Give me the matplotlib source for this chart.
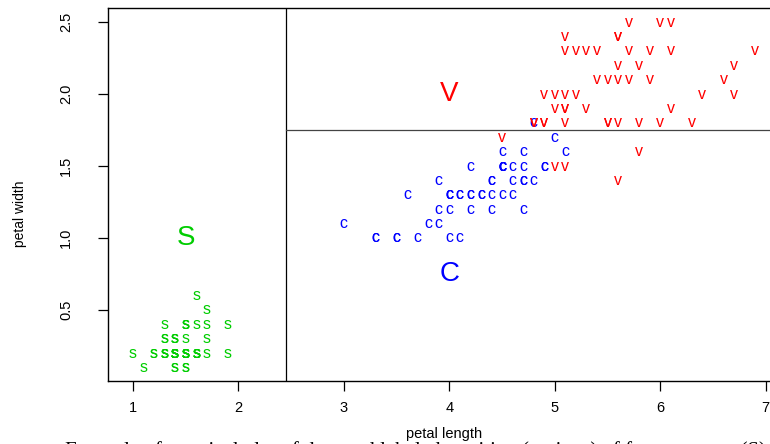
import matplotlib
matplotlib.use("Agg")
import matplotlib.pyplot as plt

# Iris petal measurements (length, width) per species
setosa_len = [1.4,1.4,1.3,1.5,1.4,1.7,1.4,1.5,1.4,1.5,1.5,1.6,1.4,1.1,1.2,1.5,1.3,1.4,1.7,1.5,
              1.7,1.5,1.0,1.7,1.9,1.6,1.6,1.5,1.4,1.6,1.6,1.5,1.5,1.4,1.5,1.2,1.3,1.4,1.3,1.5,
              1.3,1.3,1.3,1.6,1.9,1.4,1.6,1.4,1.5,1.4]
setosa_wid = [0.2,0.2,0.2,0.2,0.2,0.4,0.3,0.2,0.2,0.1,0.2,0.2,0.1,0.1,0.2,0.4,0.4,0.3,0.3,0.3,
              0.2,0.4,0.2,0.5,0.2,0.2,0.4,0.2,0.2,0.2,0.2,0.4,0.1,0.2,0.2,0.2,0.2,0.1,0.2,0.2,
              0.3,0.3,0.2,0.6,0.4,0.3,0.2,0.2,0.2,0.2]
versi_len = [4.7,4.5,4.9,4.0,4.6,4.5,4.7,3.3,4.6,3.9,3.5,4.2,4.0,4.7,3.6,4.4,4.5,4.1,4.5,3.9,
             4.8,4.0,4.9,4.7,4.3,4.4,4.8,5.0,4.5,3.5,3.8,3.7,3.9,5.1,4.5,4.5,4.7,4.4,4.1,4.0,
             4.4,4.6,4.0,3.3,4.2,4.2,4.2,4.3,3.0,4.1]
versi_wid = [1.4,1.5,1.5,1.3,1.5,1.3,1.6,1.0,1.3,1.4,1.0,1.5,1.0,1.4,1.3,1.4,1.5,1.0,1.5,1.1,
             1.8,1.3,1.5,1.2,1.3,1.4,1.4,1.7,1.5,1.0,1.1,1.0,1.2,1.6,1.5,1.6,1.5,1.3,1.3,1.3,
             1.2,1.4,1.2,1.0,1.3,1.2,1.3,1.3,1.1,1.3]
virg_len = [6.0,5.1,5.9,5.6,5.8,6.6,4.5,6.3,5.8,6.1,5.1,5.3,5.5,5.0,5.1,5.3,5.5,6.7,6.9,5.0,
            5.7,4.9,6.7,4.9,5.7,6.0,4.8,4.9,5.6,5.8,6.1,6.4,5.6,5.1,5.6,6.1,5.6,5.5,4.8,5.4,
            5.6,5.1,5.1,5.9,5.7,5.2,5.0,5.2,5.4,5.1]
virg_wid = [2.5,1.9,2.1,1.8,2.2,2.1,1.7,1.8,1.8,2.5,2.0,1.9,2.1,2.0,2.4,2.3,1.8,2.2,2.3,1.5,
            2.3,2.0,2.0,1.8,2.1,1.8,1.8,1.8,2.1,1.6,1.9,2.0,2.2,1.5,1.4,2.3,2.4,1.8,1.8,2.1,
            2.4,2.3,1.9,2.3,2.5,2.3,1.9,2.0,2.3,1.8]

split_len = 2.45
split_wid = 1.75
x_ticks = [1, 2, 3, 4, 5, 6, 7]
y_ticks = [0.5, 1.0, 1.5, 2.0, 2.5]
region_labels = [("S", 1.5, 1.0, "#00CD00"), ("C", 4.0, 0.75, "#0000FF"), ("V", 4.0, 2.0, "#FF0000")]

plt.rcParams['font.family'] = ['Liberation Sans', 'DejaVu Sans']

fig = plt.figure(figsize=(7.7, 4.44), dpi=100)
ax = fig.add_axes([108/770, (444-381.4)/444, (780-108)/770, (381.4-8.2)/444])

groups = [(setosa_len, setosa_wid, "s", "#00CD00"),
          (versi_len, versi_wid, "c", "#0000FF"),
          (virg_len, virg_wid, "v", "#FF0000")]
for xs, ys, ch, col in groups:
    for x, y in zip(xs, ys):
        ax.text(x, y, ch, color=col, fontsize=11.5, ha="center", va="center")

for lab, x, y, col in region_labels:
    ax.text(x, y, lab, color=col, fontsize=20, ha="center", va="center")

ax.set_xlim(0.764, 7.136)
ax.set_ylim(0.004, 2.596)
ax.axvline(split_len, color="black", lw=0.9)
ax.plot([split_len, 7.136], [split_wid, split_wid], color="#444444", lw=0.9)

ax.set_xticks(x_ticks)
ax.set_yticks(y_ticks)
ax.set_yticklabels([f"{v:.1f}" for v in y_ticks], rotation=90, va="center")
ax.tick_params(direction="out", length=7, width=0.9, labelsize=10.5)
ax.tick_params(axis="x", pad=7)
ax.tick_params(axis="y", pad=18)
for s in ax.spines.values():
    s.set_linewidth(1.0)

ax.set_xlabel("petal length", fontsize=10.5, labelpad=9)
fig.text(20/770, 1 - 214/444, "petal width", rotation=90, fontsize=10,
         ha="center", va="center")

fig.text(65/770, (444-441)/444, "Example of a typical plot of data and labeled partition (regions) of feature space (S)",
         family="Liberation Serif", fontsize=15, ha="left", va="top")

fig.savefig("out.png", dpi=100)
